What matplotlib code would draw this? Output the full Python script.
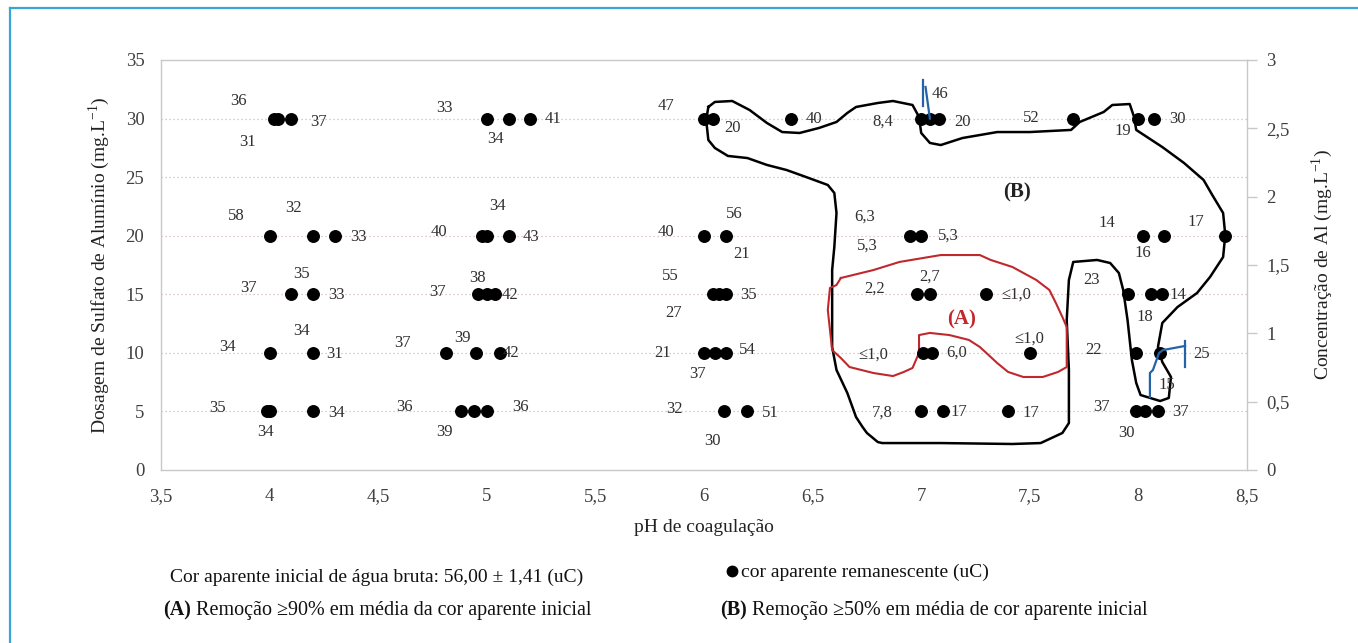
import matplotlib
matplotlib.use("Agg")
import matplotlib.pyplot as plt
from matplotlib.lines import Line2D
from matplotlib.ticker import FuncFormatter

# ---------------- data ----------------
# coagulation pH of each jar test point
ph_values = [4.02, 4.04, 4.10, 5.00, 5.10, 5.20, 6.00, 6.04, 6.40, 7.00, 7.04, 7.08, 7.70, 8.00, 8.07,
             4.00, 4.20, 4.30, 4.98, 5.00, 5.10, 6.00, 6.10, 6.95, 7.00, 8.02, 8.12, 8.40,
             4.10, 4.20, 4.96, 5.00, 5.04, 6.04, 6.07, 6.10, 6.98, 7.04, 7.30, 7.95, 8.06, 8.11,
             4.00, 4.20, 4.81, 4.95, 5.06, 6.00, 6.05, 6.10, 7.01, 7.05, 7.50, 7.99, 8.10,
             3.99, 4.00, 4.20, 4.88, 4.94, 5.00, 6.09, 6.20, 7.00, 7.10, 7.40, 7.99, 8.03, 8.09]
# aluminium sulphate dosage (mg/L) of each point
dose_values = [30] * 15 + [20] * 13 + [15] * 14 + [10] * 13 + [5] * 14

# remaining apparent colour (uC) labels and where they sit (pH, dosage)
label_text = ["36", "31", "37", "33", "34", "41", "47", "20", "40", "8,4", "46", "20", "52", "19", "30",
              "58", "32", "33", "40", "34", "43", "40", "56", "21", "6,3", "5,3", "5,3", "14", "16", "17",
              "37", "35", "33", "37", "38", "42", "55", "27", "35", "2,2", "2,7", "≤1,0", "23", "18", "14",
              "34", "34", "31", "37", "39", "42", "21", "37", "54", "≤1,0", "6,0", "≤1,0", "22", "25", "15",
              "35", "34", "34", "36", "39", "36", "32", "30", "51", "7,8", "17", "17", "37", "30", "37"]
label_ph = [3.855, 3.90, 4.227, 4.803, 5.042, 5.305, 5.825, 6.129, 6.506, 6.824, 7.087, 7.192, 7.506, 7.929, 8.178,
            3.845, 4.112, 4.407, 4.780, 5.047, 5.203, 5.825, 6.138, 6.175, 6.741, 6.750, 7.123, 7.855, 8.021, 8.265,
            3.905, 4.149, 4.306, 4.775, 4.955, 5.107, 5.843, 5.862, 6.203, 6.783, 7.041, 7.437, 7.786, 8.030, 8.182,
            3.804, 4.149, 4.301, 4.614, 4.886, 5.111, 5.811, 5.968, 6.198, 6.778, 7.165, 7.496, 7.791, 8.293, 8.132,
            3.762, 3.983, 4.306, 4.619, 4.803, 5.157, 5.866, 6.037, 6.304, 6.820, 7.174, 7.506, 7.832, 7.943, 8.192]
label_dose = [31.50, 28.0, 29.71, 30.90, 28.26, 30.0, 31.07, 29.20, 30.0, 29.71, 32.10, 29.71, 30.05, 28.94, 30.0,
              21.68, 22.37, 19.89, 20.32, 22.54, 19.89, 20.32, 21.85, 18.44, 21.60, 19.12, 19.98, 21.09, 18.52, 21.17,
              15.54, 16.73, 14.94, 15.20, 16.39, 14.94, 16.56, 13.40, 14.94, 15.45, 16.48, 14.94, 16.22, 13.06, 14.94,
              10.50, 11.87, 9.90, 10.84, 11.27, 9.99, 9.99, 8.20, 10.24, 9.82, 9.99, 11.18, 10.24, 9.90, 7.26,
              5.29, 3.24, 4.87, 5.38, 3.24, 5.38, 5.21, 2.48, 4.87, 4.87, 4.95, 4.87, 5.38, 3.16, 4.95]

# hand-drawn region (B): removal >= 50 %
region_b_ph = [6.02, 6.05, 6.13, 6.21, 6.29, 6.36, 6.44, 6.53, 6.61, 6.66, 6.70, 6.80, 6.87, 6.96, 6.99, 7.00,
               7.04, 7.09, 7.19, 7.35, 7.50, 7.69, 7.73, 7.84, 7.88, 7.96, 7.98, 7.99, 8.11, 8.21, 8.30, 8.34,
               8.39, 8.40, 8.39, 8.33, 8.27, 8.18, 8.11, 8.09, 8.11, 8.15, 8.14, 8.10, 8.01, 7.99, 7.97, 7.95,
               7.93, 7.91, 7.87, 7.81, 7.70, 7.68, 7.67, 7.68, 7.68, 7.65, 7.55, 7.42, 7.09, 6.82, 6.80, 6.75,
               6.73, 6.70, 6.66, 6.61, 6.59, 6.59, 6.59, 6.59, 6.60, 6.61, 6.60, 6.57, 6.47, 6.38, 6.29, 6.20,
               6.11, 6.05, 6.02, 6.01, 6.02]
region_b_dose = [30.99, 31.42, 31.50, 30.73, 29.62, 28.85, 28.77, 29.20, 29.71, 30.48, 30.99, 31.33, 31.50, 31.16,
                 30.14, 28.77, 27.92, 27.74, 28.34, 28.85, 28.85, 29.03, 29.71, 30.56, 31.16, 31.24, 30.14, 29.03,
                 27.57, 26.21, 24.76, 23.48, 21.94, 20.06, 18.18, 16.48, 15.11, 13.91, 12.55, 10.50, 9.22, 7.94,
                 6.15, 5.89, 6.40, 7.43, 9.39, 12.81, 15.37, 16.82, 17.67, 17.93, 17.76, 16.22, 12.81, 8.54, 4.01,
                 3.16, 2.30, 2.22, 2.30, 2.30, 2.39, 3.16, 3.67, 4.52, 6.57, 8.54, 10.50, 12.81, 15.62, 17.07,
                 19.04, 21.94, 23.65, 24.33, 25.01, 25.61, 26.04, 26.63, 26.81, 27.49, 28.17, 29.88, 30.99]

# hand-drawn region (A): removal >= 90 %
region_a_ph = [6.63, 6.78, 6.90, 7.09, 7.27, 7.32, 7.42, 7.53, 7.59, 7.62, 7.65, 7.67, 7.67, 7.63, 7.56, 7.47,
               7.40, 7.35, 7.30, 7.27, 7.22, 7.13, 7.04, 6.99, 6.99, 6.96, 6.92, 6.87, 6.78, 6.67, 6.63, 6.59,
               6.58, 6.57, 6.58, 6.61, 6.63]
region_a_dose = [16.39, 17.07, 17.76, 18.35, 18.35, 17.93, 17.33, 16.22, 15.37, 14.26, 13.06, 12.21, 8.79, 8.37,
                 7.94, 7.94, 8.37, 9.13, 9.99, 10.50, 11.10, 11.52, 11.70, 11.52, 9.99, 8.71, 8.37, 8.02, 8.28,
                 8.79, 9.56, 10.24, 11.95, 13.66, 15.54, 15.79, 16.39]

# blue hand-drawn strokes
blue1_ph = [7.01, 7.01]
blue1_dose = [33.3, 31.1]
blue2_ph = [7.02, 7.04]
blue2_dose = [32.7, 30.0]
blue3_ph = [8.053, 8.053, 8.067, 8.095, 8.113, 8.215]
blue3_dose = [6.23, 8.28, 8.54, 9.99, 10.24, 10.59]
blue4_ph = [8.215, 8.215]
blue4_dose = [11.01, 8.79]

x_ticks = [3.5, 4, 4.5, 5, 5.5, 6, 6.5, 7, 7.5, 8, 8.5]
y_ticks = [0, 5, 10, 15, 20, 25, 30, 35]
y2_ticks = [0, 0.5, 1, 1.5, 2, 2.5, 3]

# ---------------- figure ----------------
W, H = 1358, 643
plt.rcParams['font.family'] = ['Liberation Serif', 'DejaVu Serif']
fig = plt.figure(figsize=(W / 100, H / 100), dpi=100)
ax = fig.add_axes([161 / W, 1 - 470 / H, 1086 / W, 410 / H])

spine_c = '#c8c8c8'
for s in ax.spines.values():
    s.set_color(spine_c)
    s.set_linewidth(1.0)

ax.set_xlim(3.5, 8.5)
ax.set_ylim(0, 35)
ax.set_xticks(x_ticks)
ax.set_yticks(y_ticks)

def comma(v, pos=None):
    return ('%g' % v).replace('.', ',')

ax.xaxis.set_major_formatter(FuncFormatter(comma))
ax.yaxis.set_major_formatter(FuncFormatter(comma))
ax.tick_params(axis='x', length=0, pad=13, labelsize=13.5, labelcolor='#404040')
ax.tick_params(axis='y', length=0, pad=12, labelsize=13.5, labelcolor='#404040')

for yv in y_ticks[1:-1]:
    ax.axhline(yv, color='#cdb8b8', linestyle=(0, (1, 2.2)), linewidth=0.9, zorder=0)

# region outlines
ax.plot(region_b_ph, region_b_dose, color='black', linewidth=1.8, zorder=2, solid_joinstyle='round')
ax.plot(region_a_ph, region_a_dose, color='#c0282d', linewidth=1.5, zorder=2, solid_joinstyle='round')
for bx, by in [(blue1_ph, blue1_dose), (blue2_ph, blue2_dose), (blue3_ph, blue3_dose), (blue4_ph, blue4_dose)]:
    ax.plot(bx, by, color='#2563a8', linewidth=1.6, zorder=4)

# points
ax.plot(ph_values, dose_values, linestyle='none', marker='o', markersize=8.3,
        color='black', zorder=3)

for t, lx, ly in zip(label_text, label_ph, label_dose):
    ax.text(lx, ly, t, ha='center', va='center', fontsize=12, color='#303030', zorder=5)

ax.text(7.188, 12.89, '(A)', ha='center', va='center', fontsize=15, fontweight='bold', color='#c0282d')
ax.text(7.441, 23.65, '(B)', ha='center', va='center', fontsize=15, fontweight='bold', color='#222222')

ax.set_xlabel('pH de coagulação', fontsize=14, color='#222222', labelpad=10)
ax.set_ylabel('Dosagem de Sulfato de Alumínio (mg.L$^{\\mathregular{-1}}$)', fontsize=14, color='#222222', labelpad=10)

# secondary axis: aluminium concentration
ax2 = ax.twinx()
ax2.set_ylim(0, 3)
ax2.set_yticks(y2_ticks)
ax2.yaxis.set_major_formatter(FuncFormatter(comma))
for s in ax2.spines.values():
    s.set_visible(False)
ax2.tick_params(axis='y', direction='out', length=7, width=1, color=spine_c, pad=7,
                labelsize=13.5, labelcolor='#404040')
ax2.set_ylabel('Concentração de Al (mg.L$^{\\mathregular{-1}}$)', fontsize=14, color='#222222',
               rotation=90, labelpad=14)

# bottom notes
def ft(px, py, s, size=14, **kw):
    return fig.text(px / W, 1 - py / H, s, va='center', ha='left', fontsize=size, color='#111111', **kw)

ft(170, 577, 'Cor aparente inicial de água bruta: 56,00 ± 1,41 (uC)', size=14)
fig.add_artist(Line2D([732 / W], [1 - 571 / H], marker='o', markersize=7.5, color='black'))
ft(741, 572, 'cor aparente remanescente (uC)', size=14)

fig.canvas.draw()
renderer = fig.canvas.get_renderer()
for x0, tag, rest in [(163, '(A)', 'Remoção ≥90% em média da cor aparente inicial'),
                      (720, '(B)', 'Remoção ≥50% em média de cor aparente inicial')]:
    t = ft(x0, 610, tag, size=14.5, fontweight='bold')
    bb = t.get_window_extent(renderer)
    ft(bb.x1 + 5, 610, rest, size=14.5)

# frame around the figure
frame_c = '#3aa6d4'
fig.add_artist(Line2D([9.5 / W, 9.5 / W], [0, 1 - 7.5 / H], color=frame_c, linewidth=1.6))
fig.add_artist(Line2D([9.5 / W, 1], [1 - 7.5 / H, 1 - 7.5 / H], color=frame_c, linewidth=1.6))

fig.savefig('out.png', dpi=100)
